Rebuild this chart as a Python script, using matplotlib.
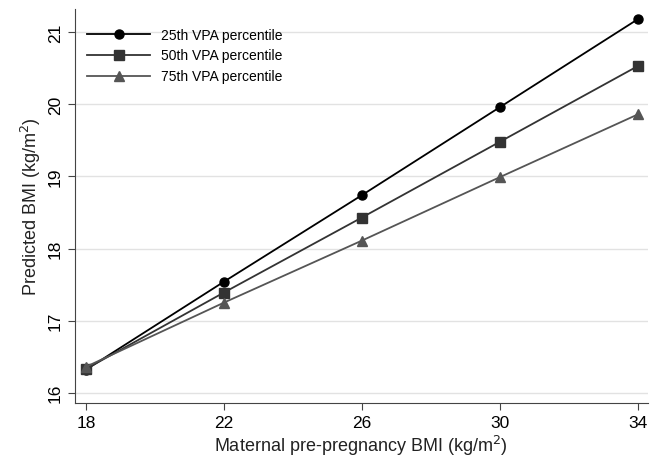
import matplotlib.pyplot as plt

plt.rcParams['font.family'] = ['Liberation Sans', 'DejaVu Sans']

bmi = [18, 22, 26, 30, 34]
p25 = [16.32, 17.54, 18.74, 19.96, 21.18]
p50 = [16.33, 17.39, 18.43, 19.48, 20.53]
p75 = [16.36, 17.25, 18.11, 18.99, 19.86]
labels = ["25th VPA percentile", "50th VPA percentile", "75th VPA percentile"]

fig = plt.figure(figsize=(6.57, 4.6), dpi=100)
ax = fig.add_axes([0.114, 0.122, 0.872, 0.856])

ax.plot(bmi, p25, color="black", marker="o", markersize=6.5, lw=1.3, label=labels[0])
ax.plot(bmi, p50, color="#333333", marker="s", markersize=6.5, lw=1.3, label=labels[1])
ax.plot(bmi, p75, color="#555555", marker="^", markersize=6.5, lw=1.3, label=labels[2])

ax.set_xlim(17.68, 34.29)
ax.set_ylim(15.86, 21.32)
ax.set_xticks(bmi)
ax.set_yticks([16, 17, 18, 19, 20, 21])
ax.grid(axis="y", color="#e2e2e2", lw=1)
ax.set_axisbelow(True)
for s in ["top", "right"]:
    ax.spines[s].set_visible(False)
for s in ["left", "bottom"]:
    ax.spines[s].set_color("#444444")
ax.tick_params(labelsize=12.5, color="#444444", length=5)
plt.setp(ax.get_yticklabels(), rotation=90, va="center")

ax.set_xlabel("Maternal pre-pregnancy BMI (kg/m$^2$)", fontsize=13, color="#222222", labelpad=2)
ax.set_ylabel("Predicted BMI (kg/m$^2$)", fontsize=13, color="#222222")

ax.legend(loc="upper left", frameon=False, fontsize=10, handlelength=4.5,
          bbox_to_anchor=(0.0, 0.985), labelspacing=0.5)

fig.savefig("out.png", dpi=100)
